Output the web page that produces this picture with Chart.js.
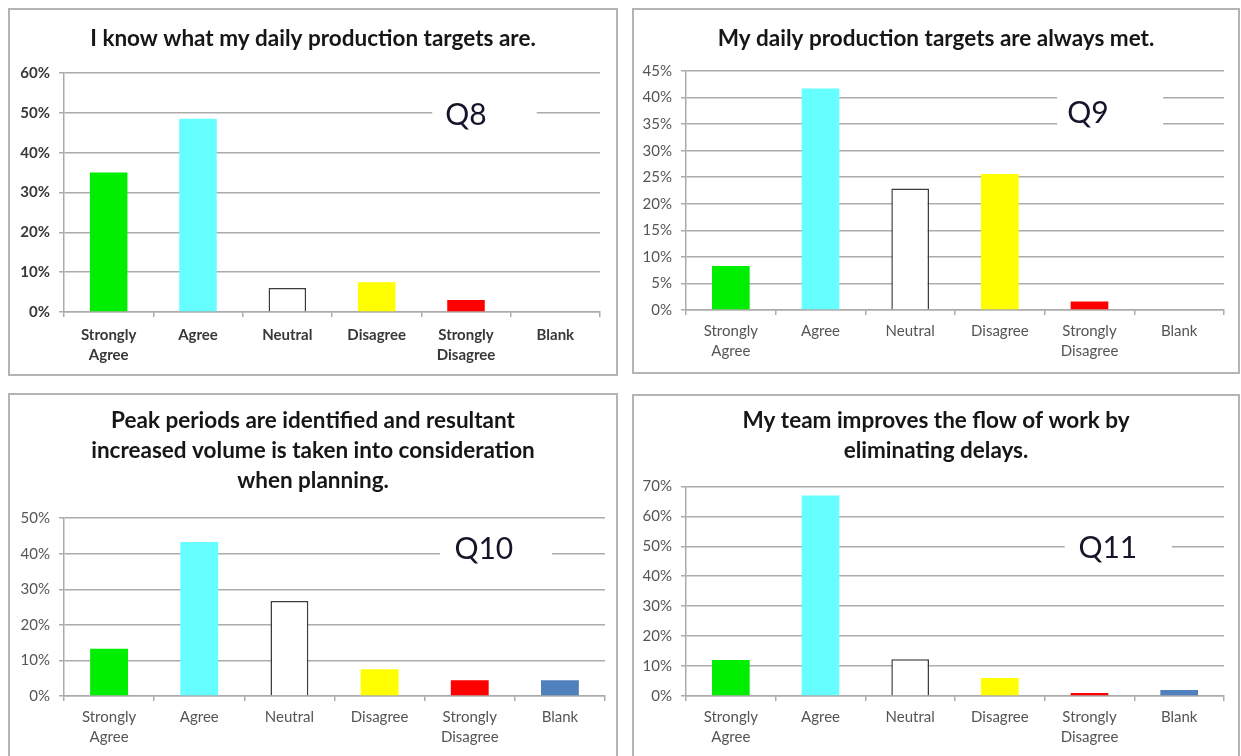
<!DOCTYPE html>
<html>
<head>
<meta charset="utf-8">
<script src="https://cdn.jsdelivr.net/npm/chart.js@4/dist/chart.umd.min.js"></script>
<style>
  html, body { margin: 0; padding: 0; background: #ffffff; overflow: hidden; }
  body { width: 1241px; height: 756px; position: relative; }
  .panel { position: absolute; border: 2px solid #b4b4b4; box-sizing: border-box; background: #fff; }
  .panel canvas { display: block; }
</style>
</head>
<body>
<div class="panel" id="p1" style="left:8px;top:8px;width:610px;height:368px;"><canvas id="c1"></canvas></div>
<div class="panel" id="p2" style="left:632px;top:8px;width:608px;height:366px;"><canvas id="c2"></canvas></div>
<div class="panel" id="p3" style="left:8px;top:393px;width:610px;height:370px;"><canvas id="c3"></canvas></div>
<div class="panel" id="p4" style="left:632px;top:394px;width:608px;height:370px;"><canvas id="c4"></canvas></div>
<script>
// Response categories shared by every question
const categories = [["Strongly", "Agree"], "Agree", "Neutral", "Disagree", ["Strongly", "Disagree"], "Blank"];

// Share of responses (%) per question
const q8Values  = [35, 48.5, 6, 7.5, 3, 0];
const q9Values  = [8.3, 41.7, 22.9, 25.6, 1.6, 0];
const q10Values = [13.3, 43.3, 26.7, 7.5, 4.4, 4.4];
const q11Values = [12, 67, 12.3, 6, 1, 2];

// Question texts
const q8Title  = ["I know what my daily production targets are."];
const q9Title  = ["My daily production targets are always met."];
const q10Title = ["Peak periods are identified and resultant", "increased volume is taken into consideration", "when planning."];
const q11Title = ["My team improves the flow of work by", "eliminating delays."];

// Question tags
const questionTags = ["Q8", "Q9", "Q10", "Q11"];

// Value-axis ranges [max, step]
const q8Axis  = [60, 10];
const q9Axis  = [45, 5];
const q10Axis = [50, 10];
const q11Axis = [70, 10];

const barColors   = ["#00ee00", "#66ffff", "#ffffff", "#ffff00", "#ff0000", "#4f81bd"];
const barBorders  = ["rgba(0,0,0,0)", "rgba(0,0,0,0)", "#3c3c3c", "rgba(0,0,0,0)", "rgba(0,0,0,0)", "rgba(0,0,0,0)"];
const barBorderW  = [0, 0, 1.5, 0, 0, 0];
const gridGray = "#ababab";

// Tag box drawn over the gridlines (white box + large label)
const tagPlugin = {
  id: "qTag",
  beforeDatasetsDraw(chart, args, opts) {
    const { ctx, chartArea } = chart;
    const w = chartArea.right - chartArea.left;
    const yc = chart.scales.y.getPixelForValue(opts.value);
    const x0 = chartArea.left + w * opts.boxFrom;
    const x1 = chartArea.left + w * opts.boxTo;
    ctx.save();
    ctx.fillStyle = "#ffffff";
    ctx.fillRect(x0, yc - opts.boxHeight / 2, x1 - x0, opts.boxHeight);
    ctx.fillStyle = "#15152a";
    ctx.font = "30px Lato";
    ctx.textAlign = "center";
    ctx.textBaseline = "middle";
    ctx.fillText(opts.text, chartArea.left + w * opts.textAt, yc);
    ctx.restore();
  }
};

function makeChart(id, cfg) {
  const bold = cfg.boldTicks;
  const tickColor = bold ? "#383838" : "#555555";
  return new Chart(document.getElementById(id), {
    type: "bar",
    data: {
      labels: categories,
      datasets: [{
        data: cfg.values,
        backgroundColor: barColors,
        borderColor: barBorders,
        borderWidth: barBorderW,
        barPercentage: 0.42,
        categoryPercentage: 1.0
      }]
    },
    options: {
      responsive: true,
      maintainAspectRatio: false,
      animation: false,
      layout: { padding: 0 },
      plugins: {
        legend: { display: false },
        tooltip: { enabled: false },
        title: {
          display: true,
          text: cfg.title,
          color: "#161616",
          font: { family: "Lato", size: 22.5, weight: "bold", lineHeight: cfg.titleLine },
          padding: { top: cfg.titleTop, bottom: cfg.titleBottom }
        },
        qTag: cfg.tag
      },
      scales: {
        x: {
          afterFit(scale) { scale.height = cfg.xHeight; },
          grid: { display: true, drawOnChartArea: false, drawTicks: true, tickLength: 5, color: gridGray, lineWidth: 1.5, offset: true },
          border: { display: true, color: gridGray, width: 1.5 },
          ticks: {
            color: tickColor,
            padding: cfg.xPad,
            maxRotation: 0,
            autoSkip: false,
            font: { family: "Lato", size: 15, weight: bold ? "bold" : "normal", lineHeight: 1.35 }
          }
        },
        y: {
          min: 0,
          max: cfg.axis[0],
          afterFit(scale) { scale.width = cfg.yWidth; },
          grid: { color: gridGray, lineWidth: 1.5, drawTicks: true, tickLength: 5 },
          border: { display: true, color: gridGray, width: 1.5 },
          ticks: {
            stepSize: cfg.axis[1],
            padding: 9,
            color: tickColor,
            font: { family: "Lato", size: 15, weight: bold ? "bold" : "normal" },
            callback: (v) => v + "%"
          }
        },
        // blank right-hand margin so the plot ends short of the panel edge
        margin: {
          type: "linear",
          position: "right",
          afterFit(scale) { scale.width = cfg.rightGap; },
          grid: { display: false },
          border: { display: false },
          ticks: { display: false }
        }
      }
    },
    plugins: [tagPlugin]
  });
}

makeChart("c1", {
  values: q8Values, title: q8Title, axis: q8Axis, boldTicks: true,
  titleLine: 1.2, titleTop: 15, titleBottom: 21,
  yWidth: 54, rightGap: 16, xHeight: 62, xPad: 8,
  tag: { text: questionTags[0], value: 49.3, boxFrom: 0.687, boxTo: 0.882, textAt: 0.75, boxHeight: 34 }
});
makeChart("c2", {
  values: q9Values, title: q9Title, axis: q9Axis, boldTicks: false,
  titleLine: 1.2, titleTop: 15, titleBottom: 19,
  yWidth: 52, rightGap: 14, xHeight: 62, xPad: 6,
  tag: { text: questionTags[1], value: 37.1, boxFrom: 0.69, boxTo: 0.887, textAt: 0.747, boxHeight: 40 }
});
makeChart("c3", {
  values: q10Values, title: q10Title, axis: q10Axis, boldTicks: false,
  titleLine: 1.32, titleTop: 11, titleBottom: 23,
  yWidth: 54, rightGap: 11, xHeight: 65, xPad: 6,
  tag: { text: questionTags[2], value: 41.1, boxFrom: 0.695, boxTo: 0.902, textAt: 0.776, boxHeight: 34 }
});
makeChart("c4", {
  values: q11Values, title: q11Title, axis: q11Axis, boldTicks: false,
  titleLine: 1.32, titleTop: 10, titleBottom: 21,
  yWidth: 52, rightGap: 14, xHeight: 66, xPad: 6,
  tag: { text: questionTags[3], value: 49.4, boxFrom: 0.704, boxTo: 0.903, textAt: 0.784, boxHeight: 34 }
});
</script>
</body>
</html>
